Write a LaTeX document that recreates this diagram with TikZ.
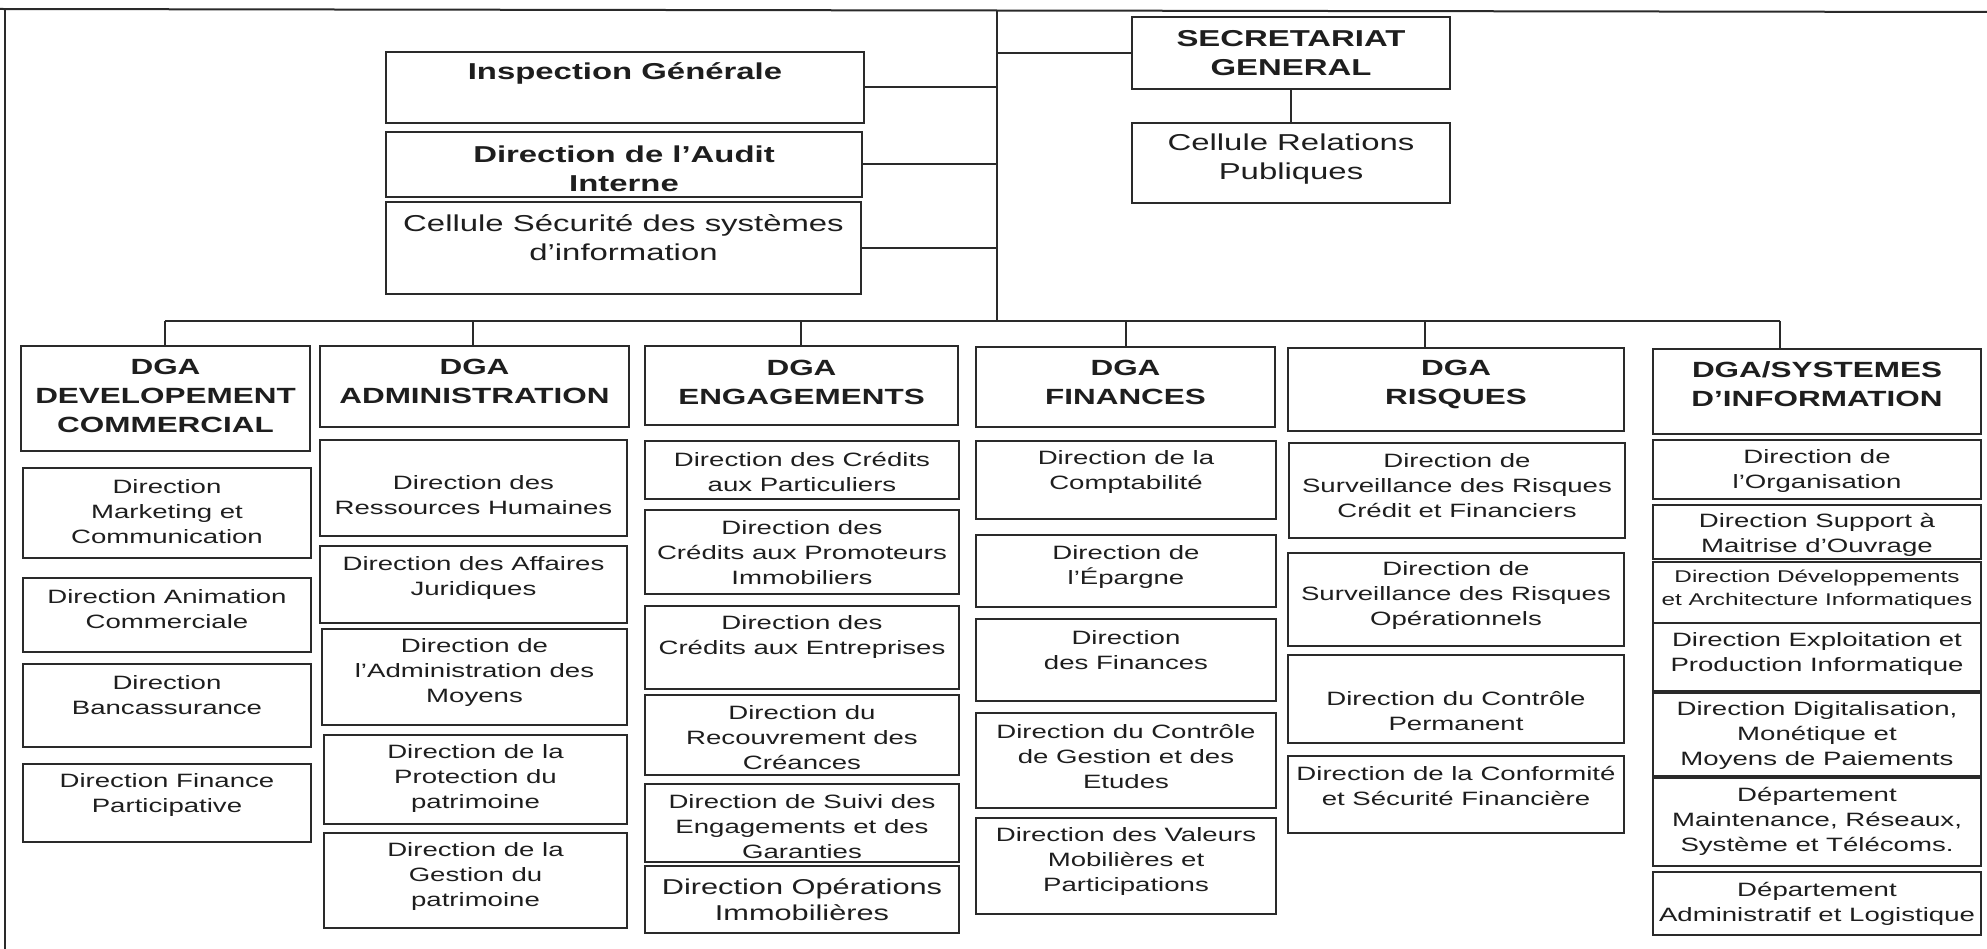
\documentclass[tikz,border=0pt]{standalone}
\usepackage{fontspec}
\newfontfamily\orgfont{Liberation Sans}[FakeStretch=1.43]
\definecolor{ink}{HTML}{2A2A2A}
\definecolor{txtc}{HTML}{1E1E1E}
\tikzset{
  box/.style={draw=ink, line width=2.2pt, inner sep=0pt},
  conn/.style={draw=ink, line width=2pt},
  txtbase/.style={inner sep=0pt, align=center, text=txtc},
  topb/.style={txtbase, font=\orgfont\bfseries\fontsize{23}{29}\selectfont},
  topr/.style={txtbase, font=\orgfont\fontsize{23}{29}\selectfont},
  dga/.style={txtbase, font=\orgfont\bfseries\fontsize{22}{29}\selectfont},
  sub/.style={txtbase, font=\orgfont\fontsize{19.3}{25}\selectfont},
  subs/.style={txtbase, font=\orgfont\fontsize{17}{23}\selectfont},
  subl/.style={txtbase, font=\orgfont\fontsize{21.5}{26}\selectfont},
}
\newcommand\orgbox[8]{%
  \pgfmathsetmacro\obcx{(#3+#5)/2}%
  \pgfmathsetmacro\obcy{(#4+#6)/2}%
  \pgfmathsetmacro\obw{#5-#3}%
  \pgfmathsetmacro\obh{#6-#4}%
  \node[box, minimum width=\obw pt, minimum height=\obh pt] (#1) at (\obcx,\obcy) {};%
  \node[#2] (#1-t) at (\obcx,#7) {#8};%
}
\begin{document}
\begin{tikzpicture}[x=1pt,y=-1pt]
\useasboundingbox (0,0) rectangle (1987,949);
% frame
\draw[conn] (0,9) -- (1987,12);
\draw[conn] (5,9) -- (5,949);
% top section
\orgbox{insp}{topb}{386}{52}{864}{123}{73}{Inspection Générale}
\orgbox{audit}{topb}{386}{132}{862}{197}{169}{Direction de l’Audit\\Interne}
\orgbox{css}{topr}{386}{202}{861}{294}{238}{Cellule Sécurité des systèmes\\d’information}
\orgbox{sg}{topb}{1132}{17}{1450}{89}{53}{SECRETARIAT\\GENERAL}
\orgbox{crp}{topr}{1132}{123}{1450}{203}{159}{Cellule Relations\\Publiques}
% DGA titles
\orgbox{dc}{dga}{21}{346}{310}{451}{396}{DGA\\DEVELOPEMENT\\COMMERCIAL}
\orgbox{adm}{dga}{320}{346}{629}{427}{381}{DGA\\ADMINISTRATION}
\orgbox{eng}{dga}{645}{346}{958}{425}{382}{DGA\\ENGAGEMENTS}
\orgbox{fin}{dga}{976}{347}{1275}{427}{382}{DGA\\FINANCES}
\orgbox{rsk}{dga}{1288}{348}{1624}{431}{384}{DGA\\RISQUES}
\orgbox{si}{dga}{1653}{349}{1981}{434}{384}{DGA/SYSTEMES\\D’INFORMATION}
% DGA Developpement commercial
\orgbox{dc1}{sub}{23}{468}{311}{558}{512}{Direction\\Marketing et\\Communication}
\orgbox{dc2}{sub}{23}{578}{311}{652}{609}{Direction Animation\\Commerciale}
\orgbox{dc3}{sub}{23}{664}{311}{747}{695}{Direction\\Bancassurance}
\orgbox{dc4}{sub}{23}{764}{311}{842}{795}{Direction Finance\\Participative}
% DGA Administration
\orgbox{ad1}{sub}{320}{440}{627}{536}{495}{Direction des\\Ressources Humaines}
\orgbox{ad2}{sub}{320}{546}{627}{623}{578}{Direction des Affaires\\Juridiques}
\orgbox{ad3}{sub}{322}{629}{627}{725}{673}{Direction de\\l’Administration des\\Moyens}
\orgbox{ad4}{sub}{324}{735}{627}{824}{779}{Direction de la\\Protection du\\patrimoine}
\orgbox{ad5}{sub}{324}{833}{627}{928}{877}{Direction de la\\Gestion du\\patrimoine}
% DGA Engagements
\orgbox{en1}{sub}{645}{441}{959}{499}{472}{Direction des Crédits\\aux Particuliers}
\orgbox{en2}{sub}{645}{510}{959}{594}{553}{Direction des\\Crédits aux Promoteurs\\Immobiliers}
\orgbox{en3}{sub}{645}{606}{959}{689}{637}{Direction des\\Crédits aux Entreprises}
\orgbox{en4}{sub}{645}{695}{959}{775}{738}{Direction du\\Recouvrement des\\Créances}
\orgbox{en5}{sub}{645}{784}{959}{862}{827}{Direction de Suivi des\\Engagements et des\\Garanties}
\orgbox{en6}{subl}{645}{866}{959}{933}{900}{Direction Opérations\\Immobilières}
% DGA Finances
\orgbox{fi1}{sub}{976}{441}{1276}{519}{472}{Direction de la\\Comptabilité}
\orgbox{fi2}{sub}{976}{535}{1276}{607}{567}{Direction de\\l’Épargne}
\orgbox{fi3}{sub}{976}{619}{1276}{701}{650}{Direction\\des Finances}
\orgbox{fi4}{sub}{976}{713}{1276}{808}{757}{Direction du Contrôle\\de Gestion et des\\Etudes}
\orgbox{fi5}{sub}{976}{818}{1276}{914}{862}{Direction des Valeurs\\Mobilières et\\Participations}
% DGA Risques
\orgbox{rk1}{sub}{1289}{443}{1625}{538}{486}{Direction de\\Surveillance des Risques\\Crédit et Financiers}
\orgbox{rk2}{sub}{1288}{553}{1624}{646}{596}{Direction de\\Surveillance des Risques\\Opérationnels}
\orgbox{rk3}{sub}{1288}{655}{1624}{743}{711}{Direction du Contrôle\\Permanent}
\orgbox{rk4}{sub}{1288}{756}{1624}{833}{786}{Direction de la Conformité\\et Sécurité Financière}
% DGA Systemes d'information
\orgbox{si1}{sub}{1653}{440}{1981}{499}{471}{Direction de\\l’Organisation}
\orgbox{si2}{sub}{1653}{505}{1981}{559}{535}{Direction Support à\\Maitrise d’Ouvrage}
\orgbox{si3}{subs}{1653}{562}{1981}{623}{590}{Direction Développements\\et Architecture Informatiques}
\orgbox{si4}{sub}{1653}{623}{1981}{691}{654}{Direction Exploitation et\\Production Informatique}
\orgbox{si5}{sub}{1653}{693}{1981}{776}{736}{Direction Digitalisation,\\Monétique et\\Moyens de Paiements}
\orgbox{si6}{sub}{1653}{778}{1981}{866}{821}{Département\\Maintenance, Réseaux,\\Système et Télécoms.}
\orgbox{si7}{sub}{1653}{872}{1981}{935}{904}{Département\\Administratif et Logistique}
% connectors
\coordinate (top) at (997,10);
\coordinate (busc) at (997,321);
\draw[conn] (top) -- (busc);
\draw[conn] (insp.east) -- (insp.east -| top);
\draw[conn] (audit.east) -- (audit.east -| top);
\draw[conn] (css.east) -- (css.east -| top);
\draw[conn] (sg.west) -- (sg.west -| top);
\draw[conn] (sg.south) -- (crp.north);
\coordinate (d1) at (165,321);
\coordinate (d2) at (473,321);
\coordinate (d3) at (801,321);
\coordinate (d4) at (1126,321);
\coordinate (d5) at (1425,321);
\coordinate (d6) at (1780,321);
\draw[conn] (d1) -- (d6);
\draw[conn] (d1) -- (d1 |- dc.north);
\draw[conn] (d2) -- (d2 |- adm.north);
\draw[conn] (d3) -- (d3 |- eng.north);
\draw[conn] (d4) -- (d4 |- fin.north);
\draw[conn] (d5) -- (d5 |- rsk.north);
\draw[conn] (d6) -- (d6 |- si.north);
\end{tikzpicture}
\end{document}
